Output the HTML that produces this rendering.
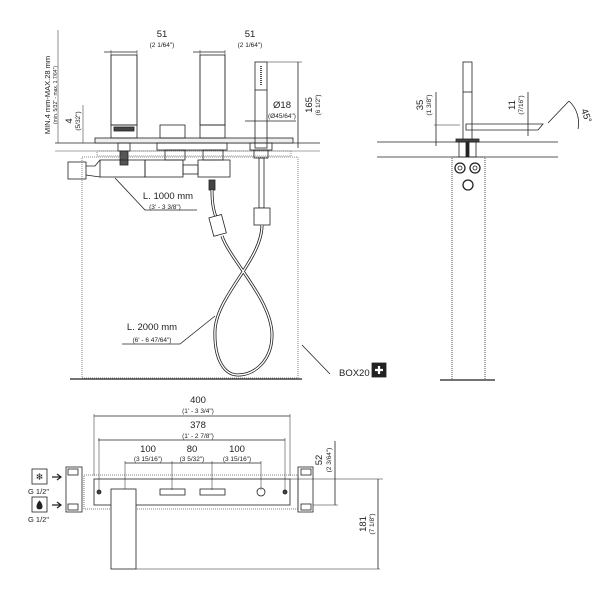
<!DOCTYPE html>
<html><head><meta charset="utf-8"><style>
html,body{margin:0;padding:0;background:#fff}
svg{display:block}
text{font-family:"Liberation Sans",sans-serif;fill:#222}
.s{font-size:6.5px}.m{font-size:9.5px}
</style></head><body>
<svg width="607" height="592" viewBox="0 0 607 592" xmlns="http://www.w3.org/2000/svg" fill="none" stroke="#222" stroke-width="0.8">
<!-- ===== Front view ===== -->
<line x1="55" y1="143" x2="320" y2="143"/>
<line x1="55" y1="151" x2="320" y2="151" stroke="#888"/>
<rect x="95" y="138" width="198" height="5" fill="#eee"/>
<rect x="97" y="151" width="194" height="5" stroke="#777" stroke-dasharray="1 1"/>
<!-- spouts -->
<rect x="111" y="55" width="26" height="70"/>
<rect x="111" y="125" width="26" height="13"/>
<rect x="114" y="127" width="20" height="4" fill="#444"/>
<rect x="160" y="125" width="25" height="13"/>
<rect x="200" y="55" width="25" height="70"/>
<rect x="200" y="125" width="25" height="13"/>
<rect x="118" y="143" width="12" height="8"/>
<rect x="120" y="151" width="8" height="14" fill="#555"/>
<rect x="157" y="143" width="70" height="7"/>
<rect x="165" y="150" width="20" height="10"/><rect x="203" y="150" width="20" height="10"/>
<rect x="100" y="160" width="45" height="17"/>
<rect x="145" y="160" width="38" height="17"/><rect x="198" y="160" width="32" height="17"/>
<rect x="183" y="165" width="15" height="9"/>
<rect x="68" y="162" width="18" height="17"/>
<path d="M86 166 L95 166 L100 160 M86 175 L100 177"/>
<!-- handshower -->
<rect x="255" y="62" width="12" height="86"/>
<line x1="255" y1="90" x2="267" y2="90"/>
<line x1="261" y1="66" x2="261" y2="86" stroke-dasharray="1 1" stroke-width="1.6"/>
<rect x="250" y="143" width="22" height="7"/>
<rect x="254" y="150" width="14" height="8"/>
<rect x="259" y="158" width="5" height="50"/>
<rect x="254" y="208" width="16" height="17" fill="#fff"/>
<rect x="209" y="180" width="6" height="10" fill="#444"/>
<!-- hose -->
<path d="M212 190 C212 205 214 212 217 220" stroke-width="3"/>
<path d="M212 190 C212 205 214 212 217 220" stroke="#fff" stroke-width="1.4"/>
<rect x="211" y="216" width="13" height="19" transform="rotate(-15 217 225)" fill="#fff"/>
<path d="M222 236 C230 260 272 300 272 335 C272 360 255 375 238 375 C222 375 214 355 215 330 C217 295 262 260 262 225" stroke-width="3"/>
<path d="M222 236 C230 260 272 300 272 335 C272 360 255 375 238 375 C222 375 214 355 215 330 C217 295 262 260 262 225" stroke="#fff" stroke-width="1.4"/>
<!-- box -->
<rect x="82" y="157" width="216" height="221" stroke="#666" stroke-dasharray="1 1"/>
<line x1="70" y1="379" x2="302" y2="379" stroke-width="1.2"/>
<!-- dims -->
<line x1="104" y1="52" x2="137" y2="52"/><line x1="111" y1="50" x2="111" y2="125" stroke-width="0.5"/><line x1="137" y1="50" x2="137" y2="125" stroke-width="0.5"/>
<line x1="193" y1="52" x2="225" y2="52"/><line x1="200" y1="50" x2="200" y2="125" stroke-width="0.5"/><line x1="225" y1="50" x2="225" y2="125" stroke-width="0.5"/>
<text x="162" y="37" class="m" text-anchor="middle" stroke="none">51</text>
<text x="162" y="47" class="s" text-anchor="middle" stroke="none">(2 1/64")</text>
<text x="250" y="37" class="m" text-anchor="middle" stroke="none">51</text>
<text x="250" y="47" class="s" text-anchor="middle" stroke="none">(2 1/64")</text>
<line x1="267" y1="62" x2="302" y2="62" stroke-width="0.5"/>
<line x1="298" y1="62" x2="298" y2="148"/>
<text transform="translate(312 105) rotate(-90)" class="m" text-anchor="middle" stroke="none">165</text>
<text transform="translate(320 105) rotate(-90)" class="s" text-anchor="middle" stroke="none">(6 1/2")</text>
<line x1="245" y1="121" x2="296" y2="121"/>
<text x="282" y="108" class="m" text-anchor="middle" stroke="none">Ø18</text>
<text x="282" y="118" class="s" text-anchor="middle" stroke="none">(Ø45/64")</text>
<line x1="58" y1="30" x2="58" y2="143" stroke-width="0.5"/>
<line x1="83" y1="105" x2="83" y2="143" stroke-width="0.5"/>
<text transform="translate(50 95) rotate(-90)" class="s" text-anchor="middle" stroke="none" style="font-size:7.5px">MIN.4 mm-MAX.28 mm</text>
<text transform="translate(57 95) rotate(-90)" class="s" text-anchor="middle" stroke="none" style="font-size:5px">(min. 5/32" - max. 1 7/64")</text>
<text transform="translate(72 121) rotate(-90)" class="m" text-anchor="middle" stroke="none">4</text>
<text transform="translate(80 121) rotate(-90)" class="s" text-anchor="middle" stroke="none">(5/32")</text>
<path d="M115 178 L145 210 L197 210"/>
<text x="168" y="199" class="m" text-anchor="middle" stroke="none">L. 1000 mm</text>
<text x="165" y="209" class="s" text-anchor="middle" stroke="none">(3' - 3 3/8")</text>
<path d="M122 344 L180 344 L215 316"/>
<text x="152" y="330" class="m" text-anchor="middle" stroke="none">L. 2000 mm</text>
<text x="152" y="342" class="s" text-anchor="middle" stroke="none">(6' - 6 47/64")</text>
<path d="M302 345 L330 374"/>
<text x="339" y="376" class="m" stroke="none">BOX20</text>
<rect x="372" y="363" width="14" height="14" fill="#222"/>
<path d="M379 366 V374 M375 370 H383" stroke="#fff" stroke-width="2.2"/>
<!-- ===== Side view ===== -->
<line x1="377" y1="142" x2="558" y2="142"/>
<line x1="377" y1="157" x2="558" y2="157"/>
<rect x="463" y="62" width="9" height="80"/>
<line x1="463" y1="92" x2="472" y2="92"/>
<path d="M466 124 L543 124 L538 130 L466 130 Z"/>
<rect x="456" y="139" width="23" height="3" fill="#444"/>
<rect x="459" y="142" width="17" height="15"/>
<rect x="466" y="142" width="3" height="15" fill="#222"/>
<rect x="452" y="157" width="33" height="223" stroke-dasharray="1 1"/>
<circle cx="460" cy="168" r="5" stroke-width="1.3"/><circle cx="460" cy="168" r="2"/>
<circle cx="475" cy="168" r="5" stroke-width="1.3"/><circle cx="475" cy="168" r="2"/>
<circle cx="468" cy="185" r="5" stroke-width="1.3"/>
<line x1="440" y1="380" x2="495" y2="380" stroke-width="1.2"/>
<line x1="436" y1="92" x2="436" y2="146"/><line x1="434" y1="125" x2="460" y2="125" stroke-width="0.5"/>
<text transform="translate(423 105) rotate(-90)" class="m" text-anchor="middle" stroke="none">35</text>
<text transform="translate(431 105) rotate(-90)" class="s" text-anchor="middle" stroke="none">(1 3/8")</text>
<line x1="528" y1="92" x2="528" y2="136"/>
<text transform="translate(515 105) rotate(-90)" class="m" text-anchor="middle" stroke="none">11</text>
<text transform="translate(523 105) rotate(-90)" class="s" text-anchor="middle" stroke="none">(7/16")</text>
<path d="M548 123 L569 101 M569 101 A30 30 0 0 1 578 129"/>
<text transform="translate(581 110) rotate(70)" class="m" stroke="none">45°</text>
<!-- ===== Bottom view ===== -->
<line x1="94" y1="416" x2="290" y2="416"/><line x1="94" y1="414" x2="94" y2="476" stroke-width="0.5"/><line x1="290" y1="414" x2="290" y2="476" stroke-width="0.5"/>
<text x="198" y="403" class="m" text-anchor="middle" stroke="none">400</text>
<text x="198" y="413" class="s" text-anchor="middle" stroke="none">(1' - 3 3/4")</text>
<line x1="98" y1="440" x2="285" y2="440"/><line x1="99" y1="438" x2="99" y2="490" stroke-width="0.5"/><line x1="285" y1="438" x2="285" y2="490" stroke-width="0.5"/>
<text x="198" y="428" class="m" text-anchor="middle" stroke="none">378</text>
<text x="198" y="438" class="s" text-anchor="middle" stroke="none">(1' - 2 7/8")</text>
<line x1="125" y1="463" x2="261" y2="463"/>
<line x1="125" y1="461" x2="125" y2="490" stroke-width="0.5"/><line x1="172" y1="461" x2="172" y2="490" stroke-width="0.5"/><line x1="212" y1="461" x2="212" y2="490" stroke-width="0.5"/><line x1="261" y1="461" x2="261" y2="490" stroke-width="0.5"/>
<text x="148" y="452" class="m" text-anchor="middle" stroke="none">100</text>
<text x="148" y="461" class="s" text-anchor="middle" stroke="none">(3 15/16")</text>
<text x="192" y="452" class="m" text-anchor="middle" stroke="none">80</text>
<text x="192" y="461" class="s" text-anchor="middle" stroke="none">(3 5/32")</text>
<text x="237" y="452" class="m" text-anchor="middle" stroke="none">100</text>
<text x="237" y="461" class="s" text-anchor="middle" stroke="none">(3 15/16")</text>
<rect x="84" y="475" width="214" height="34" stroke-dasharray="1 1" stroke="#555"/>
<rect x="94" y="479" width="196" height="26"/>
<rect x="111" y="489" width="25" height="80" fill="#fff"/>
<circle cx="99" cy="492" r="2" fill="#444"/><circle cx="285" cy="492" r="2" fill="#444"/>
<rect x="160" y="489" width="25" height="6"/><rect x="200" y="489" width="25" height="6"/>
<circle cx="261" cy="492" r="4"/>
<rect x="66" y="467" width="16" height="45"/><rect x="68" y="469" width="10" height="6"/><rect x="68" y="504" width="10" height="6"/>
<rect x="298" y="467" width="15" height="45"/><rect x="301" y="469" width="10" height="6"/><rect x="301" y="504" width="10" height="6"/>
<rect x="32" y="469" width="15" height="15"/>
<text x="39.5" y="480" class="m" text-anchor="middle" stroke="none">❄</text>
<rect x="32" y="497" width="15" height="15"/>
<path d="M39.5 501 C43 505 43 509 39.5 509 C36 509 36 505 39.5 501Z" fill="#222"/>
<path d="M52 477 H60 M57 474 L61 477 L57 480 M52 505 H60 M57 502 L61 505 L57 508" stroke-width="1.2"/>
<text x="28" y="494" class="s" stroke="none" style="font-size:7.5px">G 1/2"</text>
<text x="28" y="522" class="s" stroke="none" style="font-size:7.5px">G 1/2"</text>
<line x1="335" y1="441" x2="335" y2="505"/><line x1="313" y1="505" x2="338" y2="505" stroke-width="0.5"/>
<text transform="translate(322 460) rotate(-90)" class="m" text-anchor="middle" stroke="none">52</text>
<text transform="translate(331 460) rotate(-90)" class="s" text-anchor="middle" stroke="none">(2 3/64")</text>
<line x1="290" y1="479" x2="383" y2="479" stroke-width="0.6"/>
<line x1="136" y1="569" x2="380" y2="569" stroke-width="0.6"/>
<line x1="378" y1="479" x2="378" y2="569"/>
<text transform="translate(366 524) rotate(-90)" class="m" text-anchor="middle" stroke="none">181</text>
<text transform="translate(374 524) rotate(-90)" class="s" text-anchor="middle" stroke="none">(7 1/8")</text>
</svg>
</body></html>
